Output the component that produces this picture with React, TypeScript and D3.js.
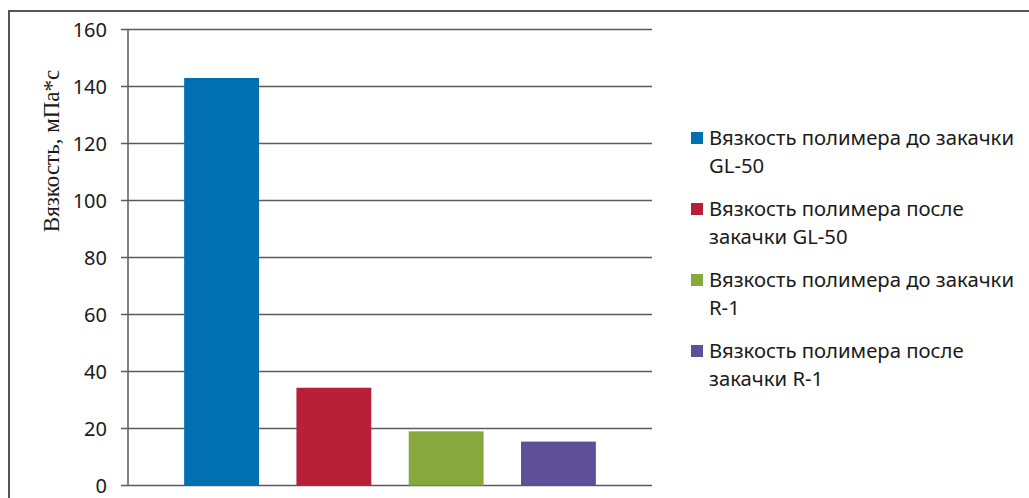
import React from "react";
import * as d3 from "d3";

// Polymer viscosity before/after injection
const seriesNames: string[][] = [
  ["Вязкость полимера до закачки", "GL-50"],
  ["Вязкость полимера после", "закачки GL-50"],
  ["Вязкость полимера до закачки", "R-1"],
  ["Вязкость полимера после", "закачки R-1"],
];
const seriesKeys = ["gl50-before", "gl50-after", "r1-before", "r1-after"];
const viscosity = [143, 34.3, 19, 15.4];
const seriesColors = ["#0070b0", "#b8203a", "#86a83c", "#5e4f98"];
const yTicks = [0, 20, 40, 60, 80, 100, 120, 140, 160];
const yTitle = "Вязкость, мПа*с";

const W = 1029;
const H = 498;
const plot = { left: 128, right: 652, top: 29.5, bottom: 485.5 };

export default function App() {
  const x = d3
    .scaleBand<string>()
    .domain(seriesKeys)
    .range([plot.left, plot.right])
    .paddingInner(1 / 3)
    .paddingOuter(0.5);
  const y = d3.scaleLinear().domain([0, 160]).range([plot.bottom, plot.top]);

  const sans = "'Noto Sans', sans-serif";

  return (
    <svg
      width={W}
      height={H}
      style={{ position: "absolute", left: 0, top: 0, background: "#fff" }}
    >
      {/* outer frame */}
      <path d={`M9,${H + 2} V11 H${W + 2}`} fill="none" stroke="#555" strokeWidth={2} />

      {/* gridlines and ticks */}
      {yTicks.map((t) => (
        <g key={t}>
          <line
            x1={plot.left - 7}
            x2={plot.right}
            y1={y(t)}
            y2={y(t)}
            stroke="#5a5a5a"
            strokeWidth={1.5}
          />
          <text
            x={107}
            y={y(t)}
            dy="0.35em"
            textAnchor="end"
            fontFamily={sans}
            fontSize={20}
            fill="#1a1a1a"
          >
            {t}
          </text>
        </g>
      ))}
      <line
        x1={plot.left}
        x2={plot.left}
        y1={plot.top}
        y2={plot.bottom}
        stroke="#5a5a5a"
        strokeWidth={1.5}
      />

      {/* bars */}
      {viscosity.map((v, i) => (
        <rect
          key={seriesKeys[i]}
          x={x(seriesKeys[i])}
          y={y(v)}
          width={x.bandwidth()}
          height={y(0) - y(v)}
          fill={seriesColors[i]}
        />
      ))}

      {/* y axis title */}
      <text
        transform={`translate(59,151) rotate(-90)`}
        textAnchor="middle"
        fontFamily="'Liberation Serif', 'Times New Roman', serif"
        fontSize={23}
        fill="#1a1a1a"
      >
        {yTitle}
      </text>

      {/* legend */}
      {seriesNames.map((lines, i) => {
        const top = 138 + i * 71;
        return (
          <g key={seriesKeys[i]}>
            <rect x={691} y={top - 6} width={12} height={12} fill={seriesColors[i]} />
            {lines.map((ln, j) => (
              <text
                key={j}
                x={709}
                y={top + j * 28}
                dy="0.35em"
                fontFamily={sans}
                fontSize={20.3}
                fill="#1a1a1a"
              >
                {ln}
              </text>
            ))}
          </g>
        );
      })}
    </svg>
  );
}
